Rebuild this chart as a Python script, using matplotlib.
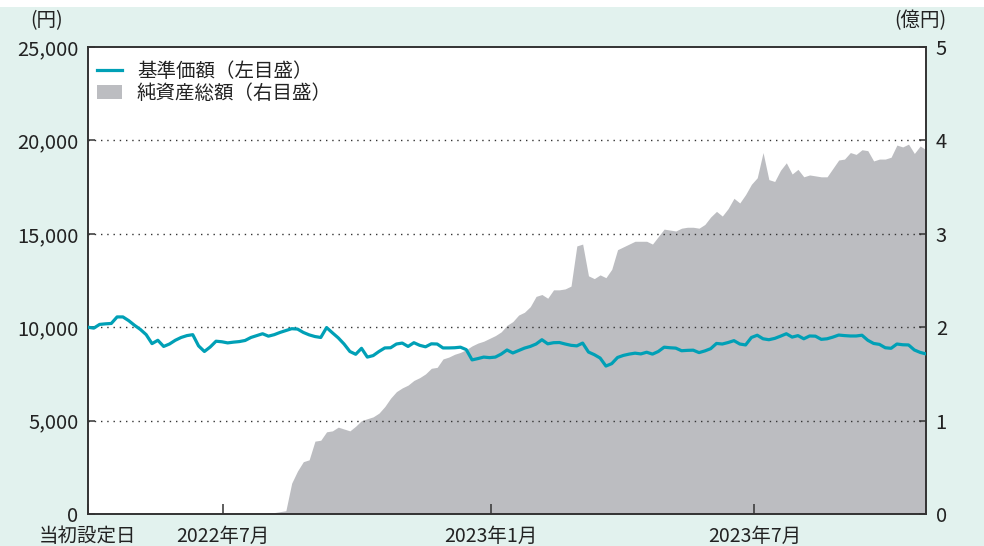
import numpy as np
import pandas as pd
import matplotlib
matplotlib.use('Agg')
import matplotlib.pyplot as plt
from matplotlib.lines import Line2D
from matplotlib.patches import Patch, Rectangle

plt.rcParams['font.family'] = ['Noto Sans CJK JP', 'DejaVu Sans']

# 4日刻みの日付
dates = pd.date_range('2022-03-30', periods=145, freq='4D')

# 基準価額（円）
nav = [10000, 9950, 10150, 10180, 10200, 10550, 10550, 10350, 10100, 9880,
       9600, 9120, 9300, 8970, 9100, 9300, 9450, 9550, 9600, 9000,
       8700, 8940, 9250, 9220, 9160, 9200, 9230, 9290, 9450, 9550,
       9650, 9520, 9600, 9720, 9820, 9920, 9900, 9720, 9590, 9500,
       9450, 9980, 9700, 9430, 9100, 8700, 8550, 8870, 8400, 8480,
       8700, 8890, 8900, 9100, 9150, 8970, 9170, 9030, 8950, 9110,
       9100, 8890, 8890, 8900, 8930, 8800, 8250, 8320, 8400, 8370,
       8400, 8560, 8780, 8620, 8750, 8880, 8970, 9100, 9330, 9110,
       9170, 9180, 9100, 9030, 9000, 9150, 8670, 8530, 8350, 7920,
       8050, 8380, 8490, 8560, 8610, 8570, 8660, 8560, 8700, 8930,
       8900, 8880, 8740, 8760, 8770, 8640, 8730, 8850, 9130, 9100,
       9180, 9280, 9100, 9050, 9450, 9570, 9380, 9330, 9400, 9520,
       9650, 9470, 9550, 9380, 9530, 9520, 9350, 9380, 9470, 9580,
       9550, 9530, 9530, 9570, 9300, 9130, 9080, 8900, 8870, 9100,
       9060, 9050, 8780, 8650, 8570]

# 純資産総額（億円）
aum = [0, 0, 0, 0, 0, 0, 0, 0, 0, 0,
       0, 0, 0, 0, 0, 0, 0, 0, 0, 0,
       0, 0, 0, 0, 0, 0, 0, 0, 0, 0,
       0.005, 0.01, 0.015, 0.025, 0.035, 0.33, 0.46, 0.56, 0.58, 0.78,
       0.79, 0.88, 0.89, 0.93, 0.91, 0.89, 0.94, 1.00, 1.02, 1.04,
       1.08, 1.15, 1.24, 1.31, 1.35, 1.38, 1.43, 1.46, 1.50, 1.56,
       1.57, 1.66, 1.68, 1.71, 1.73, 1.76, 1.80, 1.83, 1.85, 1.88,
       1.91, 1.95, 2.02, 2.06, 2.13, 2.16, 2.22, 2.33, 2.35, 2.31,
       2.40, 2.40, 2.41, 2.44, 2.87, 2.89, 2.55, 2.52, 2.56, 2.53,
       2.62, 2.83, 2.86, 2.89, 2.92, 2.92, 2.92, 2.89, 2.97, 3.05,
       3.04, 3.03, 3.06, 3.07, 3.07, 3.06, 3.10, 3.18, 3.24, 3.19,
       3.27, 3.38, 3.33, 3.42, 3.53, 3.60, 3.87, 3.58, 3.56, 3.68,
       3.76, 3.64, 3.69, 3.61, 3.63, 3.62, 3.61, 3.61, 3.70, 3.79,
       3.80, 3.87, 3.85, 3.90, 3.89, 3.78, 3.80, 3.80, 3.82, 3.95,
       3.93, 3.96, 3.86, 3.94, 3.90]

xtick_dates = [dates[0], pd.Timestamp('2022-07-01'), pd.Timestamp('2023-01-01'), pd.Timestamp('2023-07-01')]
xtick_labels = ['当初設定日', '2022年7月', '2023年1月', '2023年7月']
left_ticks = [0, 5000, 10000, 15000, 20000, 25000]
right_ticks = [0, 1, 2, 3, 4, 5]

teal = '#00a0b6'
gray = '#bcbdc1'
mint = '#e2f2ee'
dark = '#333333'
txt = '#222222'

W, H = 984, 546
fig = plt.figure(figsize=(W / 100, H / 100), dpi=100, facecolor='white')
fig.patches.append(Rectangle((0, 0), 1, 1 - 7 / H, transform=fig.transFigure,
                             facecolor=mint, edgecolor='none', zorder=-10))

rect = [88 / W, (H - 514) / H, (926 - 88) / W, (514 - 47) / H]
ax2 = fig.add_axes(rect)
ax = ax2.twinx()
# 左軸を右軸の前に
ax.yaxis.tick_left()
ax2.yaxis.tick_right()
ax2.set_facecolor('white')
ax.patch.set_visible(False)

ax2.fill_between(dates, aum, 0, color=gray, lw=0)
ax.plot(dates, nav, color=teal, lw=2.3, solid_joinstyle='round', zorder=3)

ax.set_xlim(dates[0], dates[-1])
ax2.set_xlim(dates[0], dates[-1])
ax.set_ylim(0, 25000)
ax2.set_ylim(0, 5)

for v in left_ticks[1:-1]:
    ax.axhline(v, color=dark, lw=1.0, ls=(0, (1, 3.5)), zorder=2)

ax.set_yticks(left_ticks)
ax.set_yticklabels([f'{v:,}' for v in left_ticks])
ax2.set_yticks(right_ticks)
ax2.set_yticklabels([str(v) for v in right_ticks])
ax2.set_xticks(xtick_dates)
ax2.set_xticklabels(xtick_labels)
ax.set_xticks(xtick_dates)
ax.tick_params(axis='x', bottom=False, labelbottom=False)

ax.tick_params(axis='y', direction='in', length=5, width=1.1, color=dark,
               labelsize=14.5, labelcolor=txt, pad=7, left=True, right=False,
               labelleft=True, labelright=False)
ax2.tick_params(axis='y', direction='in', length=5, width=1.1, color=dark,
                labelsize=14.5, labelcolor=txt, pad=7, left=False, right=True,
                labelleft=False, labelright=True)
ax2.tick_params(axis='x', direction='in', length=7, width=1.1, color=dark,
                labelsize=14, labelcolor=txt, pad=8.8)

for a in (ax, ax2):
    for s in a.spines.values():
        s.set_color(dark)
        s.set_linewidth(1.2)

fig.text(63 / W, 1 - 21 / H, '(円)', ha='right', va='center', fontsize=14, color=txt)
fig.text(946 / W, 1 - 21 / H, '(億円)', ha='right', va='center', fontsize=14, color=txt)

handles = [Line2D([0], [0], color=teal, lw=2.3),
           Patch(facecolor=gray, edgecolor='none')]
labels = ['基準価額（左目盛）', '純資産総額（右目盛）']
ax.legend(handles, labels, loc='upper left', frameon=False, fontsize=14,
          bbox_to_anchor=((97 - 88) / 838, 1 - (61 - 47) / 467),
          borderpad=0, borderaxespad=0, handlelength=1.3, handleheight=0.75,
          handletextpad=0.75, labelspacing=0.05, labelcolor=txt)

fig.savefig('out.png', dpi=100, facecolor=fig.get_facecolor())
